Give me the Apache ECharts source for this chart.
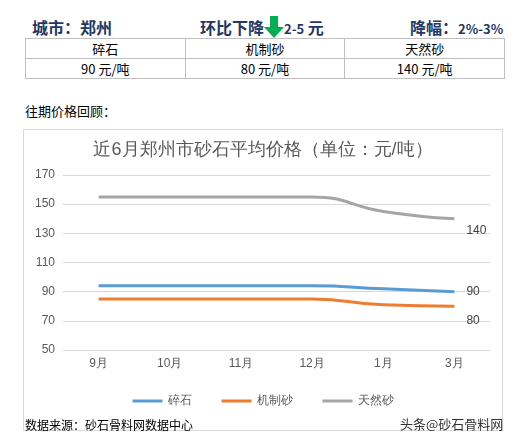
<!DOCTYPE html>
<html><head><meta charset="utf-8">
<script src="https://cdn.jsdelivr.net/npm/echarts@6/dist/echarts.min.js"></script>
<style>
body{margin:0;width:524px;height:442px;background:#fff;font-family:"Noto Sans CJK SC",sans-serif;position:relative;overflow:hidden}
.h{position:absolute;top:15px;font-weight:bold;color:#1f3864;font-size:16px}
table{position:absolute;left:25px;top:38px;width:480px;border-collapse:collapse;font-size:13px;color:#000}
td{border:1px solid #bfbfbf;text-align:center;height:19px;padding:0;width:33%}
#c{position:absolute;left:23px;top:129px;width:480px;height:302px;border:1px solid #d9d9d9;box-sizing:border-box}
</style></head><body>
<div class="h" style="left:32px">城市：郑州</div>
<div class="h" style="left:200px">环比下降<svg width="20" height="22" viewBox="0 0 20 22" style="vertical-align:-4px"><path d="M6 0H14V11H20L10 22L0 11H6Z" fill="#00b050"/></svg><span style="font-size:13px">2-5</span> 元</div>
<div class="h" style="left:410px">降幅：<span style="font-size:13px">2%-3%</span></div>
<table><tr><td>碎石</td><td>机制砂</td><td>天然砂</td></tr>
<tr><td>90 元/吨</td><td>80 元/吨</td><td>140 元/吨</td></tr></table>
<div style="position:absolute;left:25px;top:101px;font-size:13px">往期价格回顾：</div>
<div id="c"></div>
<div style="position:absolute;left:25px;top:416px;font-size:12px">数据来源：砂石骨料网数据中心</div>
<div style="position:absolute;left:400px;top:414px;font-size:13px;color:#333">头条@砂石骨料网</div>
<script>
var months=['9月','10月','11月','12月','1月','3月'];
var suishi=[94,94,94,94,92,90];
var jizhisha=[85,85,85,85,81,80];
var tianransha=[155,155,155,155,145,140];
var names=['碎石','机制砂','天然砂'];
var colors=['#5b9bd5','#ed7d31','#a5a5a5'];
var data=[suishi,jizhisha,tianransha];
var ch=echarts.init(document.getElementById('c'));
ch.setOption({
 animation:false,
 title:{text:'近6月郑州市砂石平均价格（单位：元/吨）',left:'center',top:6,textStyle:{fontSize:18,fontWeight:'normal',color:'#595959'}},
 legend:{bottom:18,itemWidth:30,itemHeight:3,icon:'rect',itemGap:30,textStyle:{fontSize:12,color:'#595959'}},
 grid:{left:39,right:12,top:45,height:175},
 xAxis:{type:'category',data:months,axisLine:{show:false},axisTick:{show:false},axisLabel:{color:'#595959',fontSize:12}},
 yAxis:{type:'value',min:50,max:170,interval:20,axisLabel:{color:'#595959',fontSize:12},splitLine:{lineStyle:{color:'#d9d9d9'}}},
 series:data.map(function(d,i){return{name:names[i],type:'line',smooth:true,data:d,symbol:'none',lineStyle:{width:3,color:colors[i]},itemStyle:{color:colors[i]},
  endLabel:{show:true,color:'#404040',fontSize:12,offset:[4,i==1?14:(i==2?12:0)]}};})
});
</script></body></html>
